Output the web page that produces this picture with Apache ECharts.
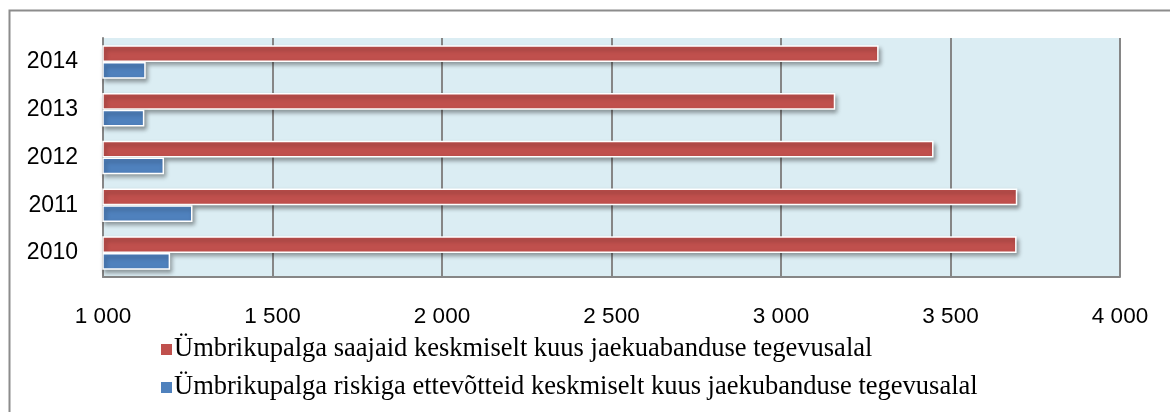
<!DOCTYPE html>
<html>
<head>
<meta charset="utf-8">
<script src="https://cdn.jsdelivr.net/npm/echarts@6/dist/echarts.min.js"></script>
<style>html,body{margin:0;padding:0;background:#fff;}#c{width:1170px;height:412px;}</style>
</head>
<body>
<div id="c"></div>
<script>
const years = ['2010', '2011', '2012', '2013', '2014'];
const seriesRedName = 'Ümbrikupalga saajaid keskmiselt kuus jaekuabanduse tegevusalal';
const seriesBlueName = 'Ümbrikupalga riskiga ettevõtteid keskmiselt kuus jaekubanduse tegevusalal';
const redValues = [3695, 3697, 3450, 3160, 3288];
const blueValues = [1198, 1264, 1180, 1122, 1126];
const xMin = 1000, xMax = 4000, xStep = 500;

const chart = echarts.init(document.getElementById('c'), null, {renderer: 'canvas'});
const barStyle = (color) => ({
  color: color,
  borderColor: '#ffffff',
  borderWidth: 1.5,
  shadowColor: 'rgba(0,0,0,0.35)',
  shadowBlur: 4,
  shadowOffsetX: 2,
  shadowOffsetY: 3
});
chart.setOption({
  animation: false,
  backgroundColor: '#ffffff',
  graphic: [{
    type: 'rect', left: 7, top: 8, z: -10,
    shape: {width: 1200, height: 500},
    style: {fill: 'none', stroke: '#8c8c8c', lineWidth: 2}
  }],
  grid: {left: 103, right: 50, top: 38, bottom: 135, show: true, backgroundColor: '#dbedf3', borderWidth: 0},
  legend: {
    data: [seriesRedName, seriesBlueName],
    orient: 'vertical',
    left: 156, top: 331,
    itemWidth: 11, itemHeight: 11, itemGap: 11,
    icon: 'path://M0 0H10V10H0Z',
    itemStyle: {borderWidth: 0, shadowBlur: 0, shadowOffsetX: 0, shadowOffsetY: 0},
    textStyle: {fontFamily: 'Liberation Serif', fontSize: 26.5, color: '#000', lineHeight: 26, padding: [0, 0, 0, -3]}
  },
  xAxis: {
    type: 'value', min: xMin, max: xMax, interval: xStep,
    axisLine: {show: true, lineStyle: {color: '#868686', width: 2}},
    axisTick: {show: false},
    splitLine: {show: true, lineStyle: {color: '#868686', width: 2}},
    axisLabel: {
      margin: 28, color: '#000', fontFamily: 'Liberation Sans', fontSize: 22.5,
      formatter: v => String(v).replace(/\B(?=(\d{3})+(?!\d))/g, ' ')
    }
  },
  yAxis: {
    type: 'category', data: years,
    axisLine: {show: true, lineStyle: {color: '#868686', width: 2}},
    axisTick: {show: false},
    axisLabel: {margin: 25, color: '#000', fontFamily: 'Liberation Sans', fontSize: 23}
  },
  series: [
    {name: seriesRedName, type: 'bar', data: redValues, barGap: '0%', barCategoryGap: '30%', itemStyle: barStyle('#c0504d')},
    {name: seriesBlueName, type: 'bar', data: blueValues, barGap: '0%', barCategoryGap: '30%', itemStyle: barStyle('#4f81bd')}
  ]
});
</script>
</body>
</html>
